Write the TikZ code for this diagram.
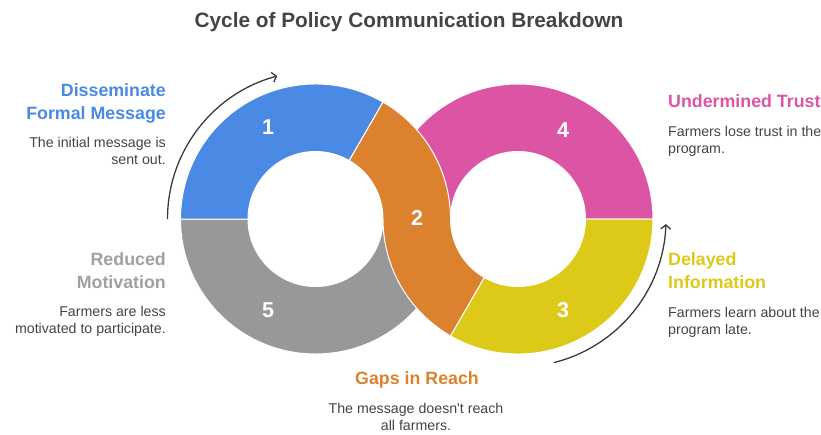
\documentclass[tikz,border=0pt]{standalone}
\usepackage{fontspec}
\setmainfont{Liberation Sans}
\usetikzlibrary{arrows.meta}

\definecolor{segblue}{HTML}{4A89E4}
\definecolor{segorange}{HTML}{DC812E}
\definecolor{segpink}{HTML}{DB55A4}
\definecolor{segyellow}{HTML}{DCC918}
\definecolor{seggray}{HTML}{989898}
\definecolor{headgray}{HTML}{A0A0A0}
\definecolor{txtgray}{HTML}{444444}
\definecolor{arrowgray}{HTML}{3A3A3A}

\tikzset{
    seg/.style={draw=white,line width=1pt},
    num/.style={text=white,font=\fontsize{21.5}{24}\selectfont\bfseries},
    head/.style={font=\fontsize{17.8}{23}\selectfont\bfseries,inner sep=0pt},
    desc/.style={text=txtgray,font=\fontsize{14.2}{17}\selectfont,inner sep=0pt},
    cyc/.style={draw=arrowgray,line width=1.3pt,-{Straight Barb[length=4pt,width=10pt]}}
}

\begin{document}
\begin{tikzpicture}[x=1pt,y=1pt]
    \useasboundingbox (0,0) rectangle (821,-434);

    \coordinate (L) at (315.5,-219);
    \coordinate (R) at (518,-219);

    % left ring
    \begin{scope}[shift={(L)}]
        \fill[seggray,seg] (180:135pt) arc[start angle=180,end angle=360,radius=135pt]
            -- (0:67.5pt) arc[start angle=360,end angle=180,radius=67.5pt] -- cycle;
        \fill[segblue,seg] (60:135pt) arc[start angle=60,end angle=180,radius=135pt]
            -- (180:67.5pt) arc[start angle=180,end angle=60,radius=67.5pt] -- cycle;
        \coordinate (cs1) at (180:148pt);
        \draw[cyc] (cs1) arc[start angle=180,end angle=105,radius=148pt];
    \end{scope}

    % right ring
    \begin{scope}[shift={(R)}]
        \fill[segpink,seg] (0:135pt) arc[start angle=0,end angle=180,radius=135pt]
            -- (180:67.5pt) arc[start angle=180,end angle=0,radius=67.5pt] -- cycle;
        \fill[segyellow,seg] (240:135pt) arc[start angle=240,end angle=360,radius=135pt]
            -- (0:67.5pt) arc[start angle=360,end angle=240,radius=67.5pt] -- cycle;
        \coordinate (cs2) at (-76:148pt);
        \draw[cyc] (cs2) arc[start angle=-76,end angle=-2,radius=148pt];
    \end{scope}

    % crossing part
    \begin{scope}[shift={(L)}]
        \fill[segorange,seg] (60:135pt) -- (60:67.5pt)
            arc[start angle=60,end angle=0,radius=67.5pt]
            arc[start angle=180,end angle=240,radius=135pt]
            -- ++(60:67.5pt)
            arc[start angle=240,end angle=180,radius=67.5pt]
            arc[start angle=0,end angle=60,radius=135pt] -- cycle;
    \end{scope}

    % numbers
    \node[num] (n1) at (268,-127) {1};
    \node[num] (n2) at (417,-218) {2};
    \node[num] (n3) at (563,-310) {3};
    \node[num] (n4) at (563,-130) {4};
    \node[num] (n5) at (268,-310) {5};

    % title
    \node[text=txtgray,font=\fontsize{20.8}{24}\selectfont\bfseries,anchor=base] (title) at (409,-27)
        {Cycle of Policy Communication Breakdown};

    % labels (anchored on the last line)
    \node[head,text=segblue,align=right,anchor=base east] (h1) at (166,-119) {Disseminate\\Formal Message};
    \node[desc,align=right,anchor=base east] (d1) at (166,-164) {The initial message is\\sent out.};

    \node[head,text=headgray,align=right,anchor=base east] (h5) at (166,-288) {Reduced\\Motivation};
    \node[desc,align=right,anchor=base east] (d5) at (166,-333) {Farmers are less\\motivated to participate.};

    \node[head,text=segpink,align=left,anchor=base west] (h4) at (668,-107) {Undermined Trust};
    \node[desc,align=left,anchor=base west] (d4) at (668,-153) {Farmers lose trust in the\\program.};

    \node[head,text=segyellow,align=left,anchor=base west] (h3) at (668,-288) {Delayed\\Information};
    \node[desc,align=left,anchor=base west] (d3) at (668,-334) {Farmers learn about the\\program late.};

    \node[head,text=segorange,align=center,anchor=base] (h2) at (417,-384) {Gaps in Reach};
    \node[desc,align=center,anchor=base] (d2) at (416,-430) {The message doesn\textquotesingle t reach\\all farmers.};
\end{tikzpicture}
\end{document}
